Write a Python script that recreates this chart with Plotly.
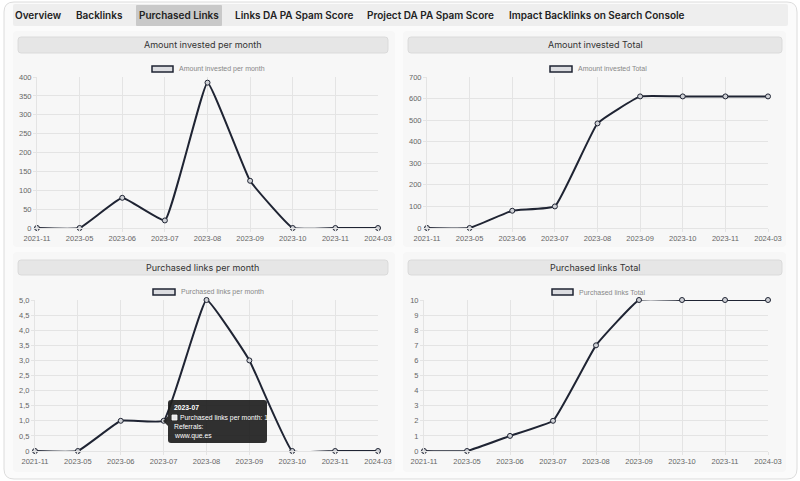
import plotly.graph_objects as go

W, H = 800, 481

months = ['2021-11', '2023-05', '2023-06', '2023-07', '2023-08', '2023-09', '2023-10', '2023-11', '2024-03']
invested_month = [0, 0, 80, 20, 385, 125, 0, 0, 0]
invested_total = [0, 0, 80, 100, 485, 610, 610, 610, 610]
links_month = [0, 0, 1, 1, 5, 3, 0, 0, 0]
links_total = [0, 0, 1, 2, 7, 10, 10, 10, 10]

invested_month_ticks = [0, 50, 100, 150, 200, 250, 300, 350, 400]
invested_total_ticks = [0, 100, 200, 300, 400, 500, 600, 700]
links_month_ticks = [0, 0.5, 1, 1.5, 2, 2.5, 3, 3.5, 4, 4.5, 5]
links_month_labels = ['0', '0,5', '1,0', '1,5', '2,0', '2,5', '3,0', '3,5', '4,0', '4,5', '5,0']
links_total_ticks = [0, 1, 2, 3, 4, 5, 6, 7, 8, 9, 10]

tabs = ['Overview', 'Backlinks', 'Purchased Links', 'Links DA PA Spam Score',
        'Project DA PA Spam Score', 'Impact Backlinks on Search Console']
active_tab = 'Purchased Links'

titles = ['Amount invested per month', 'Amount invested Total',
          'Purchased links per month', 'Purchased links Total']

tooltip_lines = ['2023-07', 'Purchased links per month: 1', 'Referrals:', 'www.que.es']

LINE = '#1f2433'
POINT = '#cfd1d6'
GRID = '#e4e4e4'
TICK = '#666666'
CHART_FONT = 'Liberation Sans'
UI_FONT = 'Inter'


def fx(p):
    return p / W


def fy(p):
    return 1 - p / H


def rrect(x0, y0, x1, y1, r):
    pts = [('M', x0 + r, y0), ('L', x1 - r, y0), ('Q', x1, y0, x1, y0 + r),
           ('L', x1, y1 - r), ('Q', x1, y1, x1 - r, y1), ('L', x0 + r, y1),
           ('Q', x0, y1, x0, y1 - r), ('L', x0, y0 + r), ('Q', x0, y0, x0 + r, y0)]
    out = []
    for p in pts:
        cmd, nums = p[0], p[1:]
        coords = []
        for i in range(0, len(nums), 2):
            coords.append(f'{fx(nums[i]):.5f},{fy(nums[i + 1]):.5f}')
        out.append(cmd + ' ' + ' '.join(coords))
    return ' '.join(out) + ' Z'


def box(x0, y0, x1, y1, r, fill, line=None, lw=0, layer='below'):
    return dict(type='path', path=rrect(x0, y0, x1, y1, r), xref='paper', yref='paper',
                fillcolor=fill, line=dict(color=line or fill, width=lw), layer=layer)


def text(x, y, s, size, color, family, anchor='center', weight=None):
    f = dict(family=family, size=size, color=color)
    if weight:
        f['weight'] = weight
    return dict(x=fx(x), y=fy(y), xref='paper', yref='paper', xanchor=anchor, yanchor='middle',
                text=s, showarrow=False, font=f)


# plot areas in pixels: x of first/last category, y of top/bottom value
panels = [
    dict(series=invested_month, ticks=invested_month_ticks, labels=[str(t) for t in invested_month_ticks],
         x=(37, 378), y=(77, 228), legend_box=(152, 173), legend_y=69),
    dict(series=invested_total, ticks=invested_total_ticks, labels=[str(t) for t in invested_total_ticks],
         x=(427, 768), y=(77, 228), legend_box=(550, 572), legend_y=69),
    dict(series=links_month, ticks=links_month_ticks, labels=links_month_labels,
         x=(35, 378), y=(300, 451), legend_box=(153, 175), legend_y=292),
    dict(series=links_total, ticks=links_total_ticks, labels=[str(t) for t in links_total_ticks],
         x=(424, 768), y=(300, 451), legend_box=(552, 573), legend_y=292),
]

fig = go.Figure()
shapes = []
annotations = []

# page frame, tab bar
shapes.append(box(4, 2, 797, 479, 10, '#fbfbfb', '#dcdcdc', 1))
shapes.append(box(13, 4, 788, 26, 2, '#eeeeee'))
tab_x = [38, 99, 179, 294, 431, 597]
for name, cx in zip(tabs, tab_x):
    if name == active_tab:
        shapes.append(box(136, 5, 222, 26, 1, '#c9c9c9'))
    annotations.append(text(cx, 15, name, 10, '#222222', UI_FONT, weight=600))

panel_rects = [(13, 31, 395, 247), (403, 31, 786, 247), (13, 252, 395, 472), (403, 252, 786, 472)]
header_rects = [(18, 37, 388, 53), (408, 37, 782, 53), (18, 260, 388, 275), (408, 260, 782, 275)]

for i, (p, pr, hr, title) in enumerate(zip(panels, panel_rects, header_rects, titles), start=1):
    shapes.append(box(*pr, 4, '#f7f7f7'))
    shapes.append(box(*hr, 3, '#e6e6e6', '#d6d6d6', 0.8))
    annotations.append(text((hr[0] + hr[2]) / 2, (hr[1] + hr[3]) / 2, title, 9, '#333333', UI_FONT))

    # legend
    bx0, bx1 = p['legend_box']
    ly = p['legend_y']
    shapes.append(dict(type='rect', xref='paper', yref='paper', x0=fx(bx0), x1=fx(bx1),
                       y0=fy(ly - 3), y1=fy(ly + 3), fillcolor='#dcdde1',
                       line=dict(color=LINE, width=1.5), layer='above'))
    annotations.append(text(bx1 + 4, ly, title, 7, '#888888', CHART_FONT, anchor='left'))

    sx = '' if i == 1 else str(i)
    fig.add_trace(go.Scatter(x=months, y=p['series'], xaxis='x' + sx, yaxis='y' + sx,
                             mode='lines+markers', line=dict(color=LINE, width=2, shape='spline', smoothing=0.3),
                             marker=dict(size=5, color=POINT, line=dict(color=LINE, width=1)),
                             cliponaxis=False, hoverinfo='skip', showlegend=False))

    axis_common = dict(showgrid=True, gridcolor=GRID, gridwidth=1, zeroline=False,
                       showline=True, linecolor=GRID, ticks='outside', ticklen=3, tickcolor=GRID,
                       tickfont=dict(family=CHART_FONT, size=7.5, color=TICK), fixedrange=True)
    fig.layout['xaxis' + sx] = dict(axis_common, type='category', range=[0, len(months) - 1],
                                    domain=[fx(p['x'][0]), fx(p['x'][1])], anchor='y' + sx,
                                    tickvals=months, ticktext=months)
    fig.layout['yaxis' + sx] = dict(axis_common, range=[p['ticks'][0], p['ticks'][-1]],
                                    domain=[fy(p['y'][1]), fy(p['y'][0])], anchor='x' + sx,
                                    tickvals=p['ticks'], ticktext=p['labels'])

# tooltip on the "Purchased links per month" chart at 2023-07
tx0, ty0, tx1, ty1 = 168, 400, 267, 443
shapes.append(box(tx0, ty0, tx1, ty1, 3, 'rgba(30,30,30,0.92)', layer='above'))
shapes.append(dict(type='path', xref='paper', yref='paper', layer='above',
                   path=f'M {fx(tx0):.5f},{fy(416):.5f} L {fx(tx0 - 5):.5f},{fy(421):.5f} '
                        f'L {fx(tx0):.5f},{fy(426):.5f} Z',
                   fillcolor='rgba(30,30,30,0.92)', line=dict(width=0)))
shapes.append(dict(type='rect', xref='paper', yref='paper', layer='above',
                   x0=fx(172), x1=fx(177), y0=fy(420), y1=fy(415),
                   fillcolor='#e8e8ea', line=dict(color='#ffffff', width=0.8)))
line_y = [407, 417.5, 426.5, 435.5]
line_x = [172, 178, 172, 172]
for k, (txt, yy, xx) in enumerate(zip(tooltip_lines, line_y, line_x)):
    annotations.append(text(xx, yy, f'<b>{txt}</b>' if k == 0 else txt, 6.8, '#ffffff', CHART_FONT, anchor='left'))

fig.update_layout(width=W, height=H, margin=dict(l=0, r=0, t=0, b=0, autoexpand=False),
                  paper_bgcolor='#ffffff', plot_bgcolor='rgba(0,0,0,0)',
                  shapes=shapes, annotations=annotations, showlegend=False)

fig.write_html('out.html', config={'displayModeBar': False},
               post_script="document.body.style.margin='0';")
